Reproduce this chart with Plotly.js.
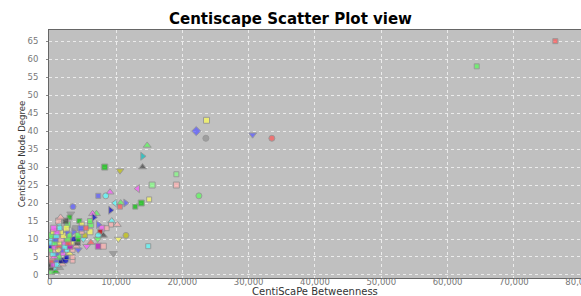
<!DOCTYPE html>
<html>
<head>
<meta charset="utf-8">
<script src="https://cdn.plot.ly/plotly-3.0.1.min.js"></script>
<style>html,body{margin:0;padding:0;background:#fff;}#chart{width:581px;height:296px;}</style>
</head>
<body>
<div id="chart"></div>
<script>
// Data
const betweenness = [
  76250, 64400, 23650, 22100, 23550, 30600, 33500, 22500, 14700, 14000,
  14000, 10600, 8300, 19100, 19100, 15450, 13270, 9100, 8450, 7330,
  15000, 13800, 12900, 11450, 10700, 9850, 10600, 9170, 7050, 6470,
  6660, 3510, 3180, 2990, 9360, 9240, 10190, 7880, 8590, 7620,
  8100, 7330, 11500, 10350, 7240, 5580, 7330, 8090, 9600, 14860,
  6220, 4470, 2700, 1550, 4830, 6180, 7330, 1350, 6080, 2400,
  1640,
  300, 900, 850, 150, 1500, 100, 600, 1200, 1900, 1100,
  250, 1800, 3450, 2400, 300, 2550, 3450, 1300, 700, 1000,
  500, 2000, 3000, 200, 900, 1700, 3450, 4300, 2600, 1300,
  100, 700, 1400, 2300, 3100, 4000, 300, 800, 1500, 2200,
  3300, 4200, 2800, 200, 900, 1700, 2700, 4200, 5070, 3600,
  300, 1000, 2100, 3000, 4300, 5300, 500, 1700, 2600, 3600,
  4830, 6080, 1100, 600, 1500, 2500, 3800, 4700, 5500
];
const degree = [
  65, 58, 43, 40, 38, 39, 38, 22, 36, 33,
  30, 29, 30, 28, 25, 25, 24, 23, 22, 22,
  21, 20, 19, 20, 20, 20, 19, 18, 17, 17,
  16, 19, 17, 16, 15, 14, 14, 13, 13, 12,
  11, 11, 11, 10, 10, 8, 8, 8, 6, 8,
  9, 15, 14, 14, 14, 14, 14, 15, 15, 15,
  16,
  1, 1, 2, 2, 2, 3, 3, 3, 3, 4,
  4, 4, 4, 4, 5, 5, 5, 5, 5, 6,
  6, 6, 6, 7, 7, 7, 7, 7, 7, 7,
  8, 8, 8, 8, 8, 8, 9, 9, 9, 9,
  9, 9, 9, 10, 10, 10, 10, 10, 10, 10,
  11, 11, 11, 11, 11, 11, 12, 12, 12, 12,
  12, 12, 12, 13, 13, 13, 13, 13, 13
];
// style code per point: colour letter + shape letter
const styleCode = [
  'Rt','Gh','Ys','Bd','Ae','Bv','Re','Ge','Gu','cr',
  'Du','yv','gs','Lh','Ps','Ls','Ml','Mu','Ce','Bh',
  'Yh','gs','gh','Br','Gu','Cl','Rt','br','Gu','Mu',
  'br','Be','Av','gh','Cu','Ph','Pu','Ms','Ph','rt',
  'Du','Ce','ye','Yv','Gv','Mv','ms','Ps','Av','Ch',
  'Ru','gh','Gs','Cl','Yt','Gs','Br','Ps','Gh','Ds',
  'Pu',
  'Gs','gu','Ch','Ds','Au','Ds','Ms','Cs','Pu','Bu',
  'Rh','Ns','Ph','be','Ps','bh','Ph','Gs','Mu','Be',
  'Cs','Mh','Yu','Gh','Ps','Bs','Ph','Bv','Ch','Ye',
  'bh','Ms','Ru','Cs','ms','Pu','Cs','Gs','Yh','Mh',
  'Yh','Ds','Rs','Cu','Bs','Ps','Gs','gs','Cv','bh',
  'Gs','Cs','Ys','Gh','Gs','yh','Yh','Yh','Br','Br',
  'Ph','Ys','Ms','Ms','Ch','Ys','Ah','Bs','Rh'
];
const xTicks = [0, 10000, 20000, 30000, 40000, 50000, 60000, 70000, 80000];
const xTickText = ['0','10,000','20,000','30,000','40,000','50,000','60,000','70,000','80,000'];

const palette = {R:'#ff5555',B:'#5555ff',G:'#55ff55',Y:'#ffff55',M:'#ff55ff',C:'#55ffff',
  P:'#ffafaf',A:'#909090',r:'#c00000',b:'#0000c0',g:'#00c000',y:'#c0c000',m:'#c000c0',
  c:'#00c0c0',D:'#404040',L:'#80ff80',N:'#000080'};
const shapeMap = {s:'square',o:'circle',u:'triangle-up',d:'diamond',h:'square',v:'triangle-down',
  e:'circle',r:'triangle-right',t:'square',l:'triangle-left'};
const sizeMap = {s:6,h:5,t:5,o:6,e:6,u:7,v:7,r:7,l:7,d:7};

const trace = {
  type:'scatter', mode:'markers',
  x: betweenness, y: degree,
  showlegend:false, hoverinfo:'x+y',
  marker:{
    color: styleCode.map(s=>palette[s[0]]),
    symbol: styleCode.map(s=>shapeMap[s[1]]),
    size: styleCode.map(s=>sizeMap[s[1]]),
    line:{color:'#8a8a8a', width:1}
  }
};

const tickFont = {family:'DejaVu Sans, sans-serif', size:8.5, color:'#777'};
const layout = {
  width:581, height:296,
  margin:{l:49, r:0, t:30, b:18},
  paper_bgcolor:'#ffffff', plot_bgcolor:'#c0c0c0',
  title:{text:'<b>Centiscape Scatter Plot view</b>', x:0.5, xref:'container', xanchor:'center',
    y:0.936, yref:'container', yanchor:'middle',
    font:{family:'DejaVu Sans, sans-serif', size:15, color:'#000'}},
  xaxis:{
    range:[-105, 80120], tickmode:'array', tickvals:xTicks, ticktext:xTickText,
    showgrid:true, gridcolor:'#ebebeb', griddash:'dot', gridwidth:1,
    zeroline:false, showline:true, linecolor:'#666', linewidth:1, mirror:true,
    ticks:'', tickfont:tickFont, ticklabelstandoff:-4,
    ticklabeloverflow:'allow',
    automargin:false, fixedrange:true
  },
  yaxis:{
    range:[-0.84, 68.1], tickmode:'linear', tick0:0, dtick:5,
    showgrid:true, gridcolor:'#ebebeb', griddash:'dot', gridwidth:1,
    zeroline:false, showline:true, linecolor:'#666', linewidth:1, mirror:true,
    ticks:'outside', ticklen:2, tickcolor:'#888', tickfont:tickFont, ticklabelstandoff:6,
    title:{text:'CentiScaPe Node Degree', standoff:0, font:{family:'Liberation Sans Narrow, DejaVu Sans Condensed, sans-serif', size:9.5, color:'#333'}},
    automargin:false, fixedrange:true
  },
  annotations:[{
    text:'CentiScaPe Betweenness', xref:'paper', yref:'paper', x:0.5, y:-0.056,
    xanchor:'center', yanchor:'middle', showarrow:false, borderpad:0,
    font:{family:'DejaVu Sans, sans-serif', size:10, color:'#333'}
  }]
};
Plotly.newPlot('chart', [trace], layout, {displayModeBar:false, staticPlot:true});
</script>
</body>
</html>
